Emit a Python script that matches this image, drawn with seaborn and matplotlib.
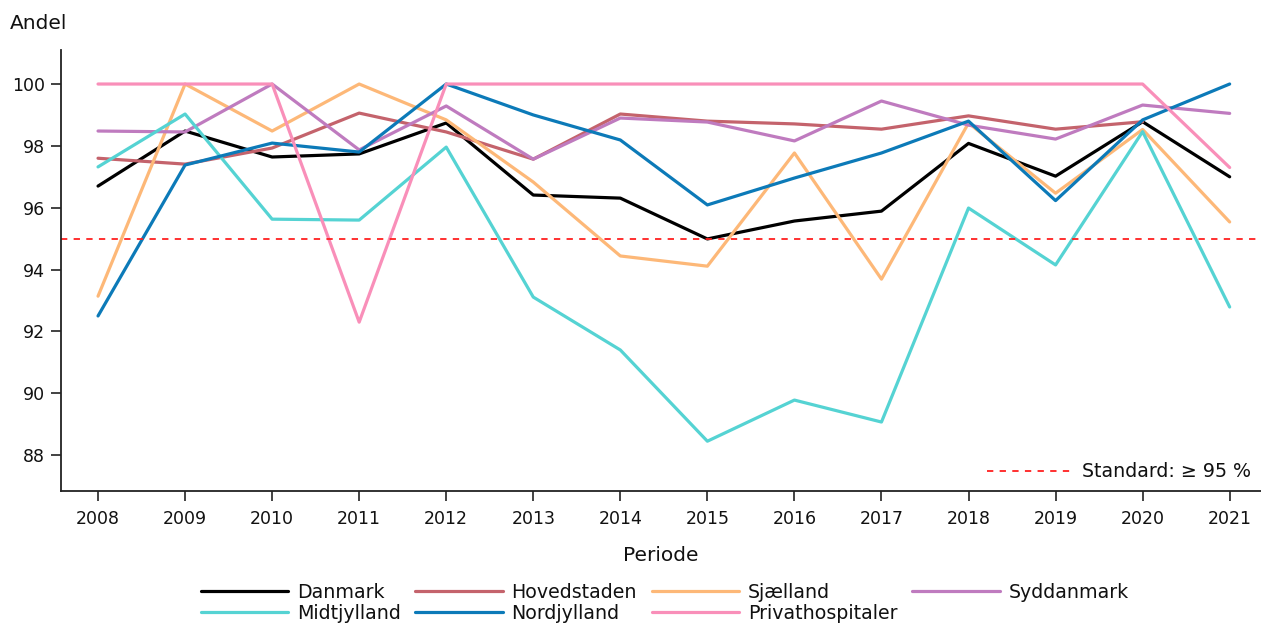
import numpy as np
import pandas as pd
import seaborn as sns
import matplotlib.pyplot as plt

years = list(range(2008, 2022))

danmark = [96.70, 98.48, 97.64, 97.74, 98.74, 96.41, 96.31, 94.99, 95.57, 95.89, 98.08, 97.02, 98.78, 97.00]
hovedstaden = [97.60, 97.41, 97.93, 99.06, 98.45, 97.57, 99.03, 98.80, 98.71, 98.54, 98.97, 98.54, 98.78, np.nan]
sjaelland = [93.14, 100.0, 98.48, 100.0, 98.84, 96.83, 94.44, 94.11, 97.77, 93.69, 98.74, 96.47, 98.53, 95.54]
syddanmark = [98.48, 98.45, 100.0, 97.87, 99.29, 97.57, 98.90, 98.77, 98.16, 99.45, 98.67, 98.22, 99.32, 99.05]
midtjylland = [97.32, 99.03, 95.63, 95.60, 97.96, 93.11, 91.40, 88.45, 89.78, 89.07, 95.99, 94.15, 98.46, 92.79]
nordjylland = [92.50, 97.38, 98.09, 97.80, 100.0, 99.00, 98.19, 96.09, 96.96, 97.77, 98.80, 96.23, 98.84, 100.0]
privat = [100.0, 100.0, 100.0, 92.30, 100.0, 100.0, 100.0, 100.0, 100.0, 100.0, 100.0, 100.0, 100.0, 97.30]

series = {
    "Danmark": danmark,
    "Hovedstaden": hovedstaden,
    "Sjælland": sjaelland,
    "Syddanmark": syddanmark,
    "Midtjylland": midtjylland,
    "Nordjylland": nordjylland,
    "Privathospitaler": privat,
}
colors = {
    "Danmark": "#000000",
    "Hovedstaden": "#c4636c",
    "Sjælland": "#fdb878",
    "Syddanmark": "#bf7bbf",
    "Midtjylland": "#55d3d3",
    "Nordjylland": "#0c7ab8",
    "Privathospitaler": "#f98fb9",
}
standard = 95

df = pd.DataFrame(
    [(y, name, v) for name, vals in series.items() for y, v in zip(years, vals)],
    columns=["Periode", "Region", "Andel"],
)

sns.set_style("ticks")
plt.rcParams["font.family"] = ["DejaVu Sans"]
plt.rcParams["font.size"] = 12.5
plt.rcParams["text.color"] = "#111111"
plt.rcParams["xtick.color"] = "#111111"
plt.rcParams["ytick.color"] = "#111111"

fig = plt.figure(figsize=(12.61, 6.25), dpi=100)
ax = fig.add_axes([0.0484, 0.2144, 0.9516, 0.7056])

sns.lineplot(data=df, x="Periode", y="Andel", hue="Region", palette=colors,
             hue_order=list(series.keys()), linewidth=2.3, ax=ax)
handles, labels = ax.get_legend_handles_labels()
ax.get_legend().remove()

std_line = ax.axhline(standard, color="#ff2020", linestyle=(0, (3.5, 3.5)),
                      linewidth=1.3, label="Standard: ≥ 95 %")

ax.set_xlim(2007.575, 2021.36)
ax.set_ylim(86.84, 101.1)
ax.set_xticks(years)
ax.set_yticks(range(88, 101, 2))
ax.tick_params(axis="both", length=7, width=1.2, labelsize=12.5, color="#222222")
ax.tick_params(axis="x", pad=6.5)
ax.tick_params(axis="y", pad=4.5)
for s in ["top", "right"]:
    ax.spines[s].set_visible(False)
for s in ["left", "bottom"]:
    ax.spines[s].set_linewidth(1.3)
    ax.spines[s].set_color("#222222")

ax.set_xlabel("Periode", fontsize=14.5, labelpad=13, color="#111111")
ax.set_ylabel("")
fig.text(0.008, 0.963, "Andel", fontsize=14.5, ha="left", va="center")

ax.legend(handles=[std_line], loc="lower right", frameon=False, fontsize=13.7,
          handlelength=4.5, handletextpad=0.5, borderaxespad=0.1)

# fill legend row by row (matplotlib fills column-wise)
lookup = dict(zip(labels, handles))
order = ["Danmark", "Midtjylland", "Hovedstaden", "Nordjylland",
         "Sjælland", "Privathospitaler", "Syddanmark"]
fig.legend([lookup[k] for k in order], order, loc="lower center", ncol=4,
           frameon=False, fontsize=13.7, handlelength=4.6, columnspacing=0.78,
           handletextpad=0.45, labelspacing=0.12, bbox_to_anchor=(0.527, -0.024))

fig.savefig("out.png", dpi=100)
